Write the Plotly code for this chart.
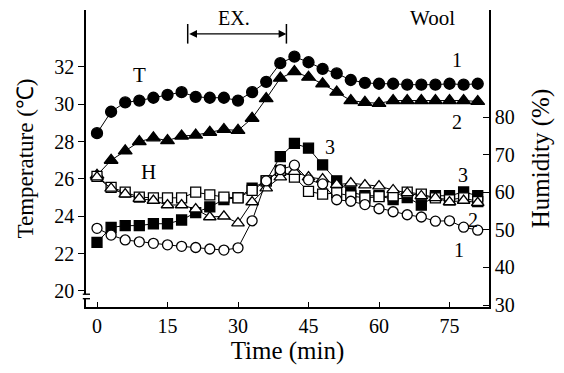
import plotly.graph_objects as go

# Sampling times (min)
minutes = list(range(0, 82, 3))

# Temperature (°C), filled markers, left axis
temp_1 = [28.45, 29.6, 30.1, 30.2, 30.35, 30.5, 30.65, 30.4, 30.35, 30.35, 30.2, 30.65, 31.2, 32.2,
          32.55, 32.25, 31.9, 31.65, 31.3, 31.15, 31.1, 31.1, 31.05, 31.05, 31.05, 31.1, 31.05, 31.1]
temp_2 = [26.2, 27.0, 27.5, 28.0, 28.2, 28.05, 28.3, 28.35, 28.5, 28.65, 28.6, 29.25, 30.3, 31.4,
          31.75, 31.45, 31.1, 30.65, 30.2, 30.1, 30.05, 30.2, 30.2, 30.2, 30.2, 30.2, 30.2, 30.15]
temp_3 = [22.6, 23.4, 23.5, 23.5, 23.6, 23.6, 23.8, 24.2, 24.5, 24.9, 25.0, 25.5, 25.9, 27.2,
          27.9, 27.65, 26.75, 25.9, 25.3, 25.1, 25.1, 24.9, 25.0, 24.6, 25.1, 25.1, 25.3, 25.1]

# Humidity (%), open markers, right axis
hum_1 = [50.4, 48.6, 47.3, 46.8, 46.4, 46.0, 45.6, 45.3, 44.9, 44.6, 45.2, 52.4, 63.0, 66.0,
         67.2, 63.3, 62.2, 58.0, 57.6, 56.7, 55.6, 54.8, 54.0, 53.4, 52.3, 52.4, 50.7, 49.9]
hum_2 = [64.0, 61.0, 59.5, 58.3, 57.8, 56.6, 56.6, 55.5, 53.4, 53.6, 51.8, 57.4, 61.1, 64.0,
         65.5, 64.0, 63.5, 62.0, 62.4, 61.9, 61.6, 60.6, 59.8, 59.0, 58.5, 57.4, 57.8, 57.2]
hum_3 = [64.2, 61.3, 60.0, 58.7, 58.5, 58.5, 58.5, 60.0, 59.3, 58.7, 58.5, 60.5, 63.0, 65.8,
         64.0, 60.2, 59.5, 59.8, 59.0, 58.5, 58.8, 59.0, 60.0, 59.5, 58.5, 58.0, 58.5, 57.5]

temp_ticks = [20, 22, 24, 26, 28, 30, 32]
hum_ticks = [30, 40, 50, 60, 70, 80]
time_ticks = [0, 15, 30, 45, 60, 75]

FONT = "Liberation Serif, Times New Roman, serif"
INK = "black"

fig = go.Figure()


def add_series(values, symbol, filled, size, axis):
    fig.add_trace(go.Scatter(
        x=minutes, y=values, mode="lines+markers", yaxis=axis,
        line=dict(color=INK, width=1),
        marker=dict(symbol=symbol, size=size,
                    color=INK if filled else "white",
                    line=dict(color=INK, width=1.3)),
        showlegend=False, hoverinfo="skip",
    ))


add_series(hum_3, "square", False, 10, "y2")
add_series(hum_2, "triangle-up", False, 11, "y2")
add_series(hum_1, "circle", False, 10, "y2")
add_series(temp_3, "square", True, 10, "y")
add_series(temp_2, "triangle-up", True, 12, "y")
add_series(temp_1, "circle", True, 11, "y")

fig.update_layout(
    width=564, height=373,
    margin=dict(l=86, r=75, t=10, b=66),
    paper_bgcolor="white", plot_bgcolor="white",
    font=dict(family=FONT, size=20, color=INK),
    xaxis=dict(
        range=[-2.34, 83.4], tickvals=time_ticks, ticks="inside", ticklen=5,
        tickcolor=INK, showline=True, linecolor=INK, linewidth=1.6,
        showgrid=False, zeroline=False,
        title=dict(text="Time (min)", font=dict(size=25), standoff=4),
    ),
    yaxis=dict(
        range=[19.14, 35.05], tickvals=temp_ticks, ticks="outside", ticklen=6,
        tickcolor=INK, showline=True, linecolor=INK, linewidth=1.6,
        showgrid=False, zeroline=False,
        title=dict(text="Temperature (℃)", font=dict(size=23), standoff=14),
    ),
    yaxis2=dict(
        range=[29.47, 108.46], tickvals=hum_ticks, ticks="inside", ticklen=6,
        tickcolor=INK, showline=True, linecolor=INK, linewidth=1.6,
        showgrid=False, zeroline=False, overlaying="y", side="right",
        title=dict(text="Humidity (%)", font=dict(size=25), standoff=18),
    ),
)

# Axis break on the temperature scale
fig.add_shape(type="line", xref="paper", yref="paper", x0=0, x1=0, y0=0.028, y1=0.043,
              line=dict(color="white", width=4))
for yb in (0.043, 0.028):
    fig.add_shape(type="line", xref="paper", yref="paper", x0=-0.008, x1=0.010, y0=yb, y1=yb,
                  line=dict(color=INK, width=1.4))

# Exercise period marker
fig.add_annotation(x=40.3, y=33.77, ax=19.3, ay=33.77, xref="x", yref="y", axref="x", ayref="y",
                   text="", showarrow=True, arrowside="end+start", arrowhead=2, arrowsize=1.2,
                   arrowwidth=1.3, arrowcolor=INK)
for xb in (19.3, 40.3):
    fig.add_shape(type="line", xref="x", yref="y", x0=xb, x1=xb, y0=33.25, y1=34.3,
                  line=dict(color=INK, width=1.5))

labels = [
    ("EX.", 29.1, 34.6, 20),
    ("Wool", 71.3, 34.6, 21),
    ("T", 9.1, 31.57, 21),
    ("H", 10.9, 26.37, 21),
    ("1", 76.6, 32.37, 20),
    ("2", 76.6, 29.05, 20),
    ("3", 49.6, 27.7, 20),
    ("3", 77.9, 26.2, 20),
    ("2", 80.0, 23.8, 20),
    ("1", 77.0, 22.2, 20),
]
for text, tx, ty, sz in labels:
    fig.add_annotation(x=tx, y=ty, xref="x", yref="y", text=text, showarrow=False,
                       font=dict(size=sz, family=FONT, color=INK))

fig.write_html("out.html")
